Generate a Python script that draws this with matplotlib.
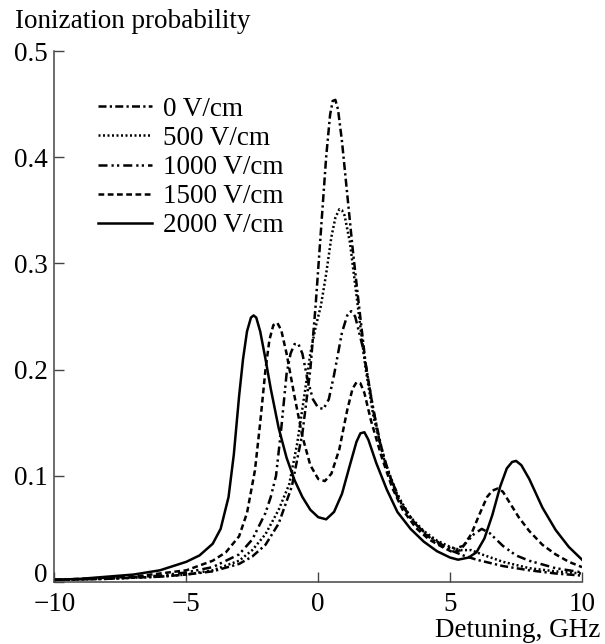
import numpy as np
import matplotlib
matplotlib.use("Agg")
import matplotlib.pyplot as plt

plt.rcParams['font.family'] = ['Liberation Serif', 'DejaVu Serif']
plt.rcParams['font.size'] = 19.5

# curve data (detuning in GHz, ionization probability)
x_0 = [-10, -8, -6, -5, -4, -3, -2.5, -2.0, -1.5, -1.0, -0.6, -0.3, -0.1, 0.1, 0.3, 0.45, 0.55, 0.65,
       0.75, 0.9, 1.1, 1.3, 1.5, 1.8, 2.1, 2.5, 3.0, 3.5, 4.0, 4.5, 5.0, 5.5, 6.0, 7.0, 8.0, 9.0, 10]
y_0 = [0.002, 0.003, 0.005, 0.007, 0.010, 0.017, 0.024, 0.035, 0.055, 0.090, 0.140, 0.200, 0.260, 0.330,
       0.400, 0.440, 0.453, 0.454, 0.445, 0.415, 0.365, 0.315, 0.270, 0.205, 0.160, 0.115, 0.080, 0.060,
       0.046, 0.037, 0.030, 0.025, 0.021, 0.015, 0.011, 0.008, 0.006]

x_500 = [-10, -8, -6, -5, -4, -3, -2.5, -2.0, -1.5, -1.1, -0.8, -0.5, -0.3, -0.1, 0.1, 0.3, 0.5, 0.65,
         0.8, 0.9, 1.0, 1.2, 1.5, 1.8, 2.1, 2.5, 3.0, 3.5, 4.0, 4.5, 5.0, 5.4, 5.8, 6.2, 7.0, 8.0,
         9.0, 10]
y_500 = [0.002, 0.003, 0.005, 0.007, 0.011, 0.020, 0.030, 0.045, 0.068, 0.092, 0.130, 0.180, 0.215,
         0.240, 0.260, 0.290, 0.325, 0.343, 0.351, 0.350, 0.345, 0.320, 0.260, 0.200, 0.155, 0.115,
         0.082, 0.061, 0.048, 0.039, 0.033, 0.030, 0.030, 0.026, 0.019, 0.013, 0.010, 0.008]

x_1000 = [-10, -8, -6, -5, -4, -3, -2.5, -2.0, -1.8, -1.6, -1.4, -1.2, -1.05, -0.9, -0.75, -0.6, -0.4,
          -0.2, 0.0, 0.2, 0.4, 0.6, 0.9, 1.1, 1.25, 1.4, 1.7, 2.0, 2.3, 2.7, 3.2, 3.7, 4.2, 4.7, 5.1,
          5.5, 5.9, 6.2, 6.5, 7.0, 7.5, 8.0, 9.0, 10]
y_1000 = [0.002, 0.003, 0.006, 0.009, 0.014, 0.026, 0.040, 0.065, 0.080, 0.100, 0.145, 0.196, 0.215,
          0.224, 0.224, 0.215, 0.190, 0.172, 0.164, 0.163, 0.172, 0.195, 0.235, 0.251, 0.255, 0.250,
          0.220, 0.175, 0.135, 0.100, 0.072, 0.054, 0.043, 0.035, 0.031, 0.034, 0.045, 0.050, 0.046,
          0.034, 0.025, 0.020, 0.013, 0.009]

x_1500 = [-10, -9, -8, -7, -6, -5, -4, -3.5, -3.0, -2.7, -2.4, -2.2, -2.0, -1.85, -1.7, -1.55, -1.4,
          -1.2, -0.9, -0.6, -0.3, 0.0, 0.25, 0.5, 0.8, 1.1, 1.3, 1.45, 1.6, 1.75, 2.0, 2.4, 2.8, 3.2,
          3.7, 4.2, 4.7, 5.1, 5.4, 5.8, 6.1, 6.4, 6.6, 6.8, 7.0, 7.3, 7.6, 8.0, 8.5, 9.0, 9.5, 10]
y_1500 = [0.002, 0.003, 0.004, 0.005, 0.008, 0.011, 0.020, 0.028, 0.043, 0.065, 0.105, 0.150, 0.200,
          0.228, 0.242, 0.244, 0.237, 0.215, 0.175, 0.137, 0.110, 0.097, 0.095, 0.102, 0.125, 0.162,
          0.182, 0.188, 0.187, 0.178, 0.152, 0.118, 0.089, 0.068, 0.051, 0.040, 0.033, 0.028, 0.030,
          0.045, 0.063, 0.080, 0.086, 0.088, 0.085, 0.073, 0.061, 0.048, 0.035, 0.026, 0.019, 0.014]

x_2000 = [-10, -9, -8, -7, -6, -5, -4.5, -4, -3.7, -3.4, -3.2, -3.0, -2.85, -2.7, -2.55, -2.45, -2.35,
          -2.2, -2.0, -1.8, -1.5, -1.2, -0.9, -0.6, -0.3, 0.0, 0.3, 0.6, 0.9, 1.2, 1.45, 1.6, 1.75,
          1.9, 2.2, 2.6, 3.0, 3.5, 4.0, 4.5, 5.0, 5.3, 5.7, 6.0, 6.3, 6.6, 6.9, 7.15, 7.35, 7.5, 7.7,
          8.0, 8.5, 9.0, 9.5, 10]
y_2000 = [0.002, 0.003, 0.005, 0.007, 0.011, 0.019, 0.025, 0.036, 0.050, 0.080, 0.120, 0.175, 0.210,
          0.236, 0.249, 0.251, 0.249, 0.236, 0.210, 0.182, 0.145, 0.117, 0.096, 0.080, 0.068, 0.061,
          0.059, 0.066, 0.083, 0.110, 0.132, 0.140, 0.141, 0.134, 0.112, 0.087, 0.066, 0.050, 0.038,
          0.029, 0.023, 0.021, 0.023, 0.028, 0.041, 0.063, 0.090, 0.107, 0.113, 0.114, 0.110, 0.097,
          0.070, 0.049, 0.033, 0.021]

labels = ['0 V/cm', '500 V/cm', '1000 V/cm', '1500 V/cm', '2000 V/cm']

fig = plt.figure(figsize=(6.05, 6.44), dpi=100)
ax = fig.add_axes([0.090, 0.0963, 0.872, 0.8245])

lw = 1.8
ax.plot(x_0, y_0, color='black', lw=lw, dashes=(3.2, 1.3, 0.9, 1.3), label=labels[0])
ax.plot(x_500, y_500, color='black', lw=lw, dashes=(0.8, 1.0), label=labels[1])
ax.plot(x_1000, y_1000, color='black', lw=lw, dashes=(3.6, 1.6, 0.9, 1.3, 0.9, 1.6), label=labels[2])
ax.plot(x_1500, y_1500, color='black', lw=lw, dashes=(2.3, 1.4), label=labels[3])
ax.plot(x_2000, y_2000, color='black', lw=lw, label=labels[4])

ax.set_xlim(-10, 10)
ax.set_ylim(0, 0.5)
ax.set_xticks([-10, -5, 0, 5, 10])
ax.set_yticks([0, 0.1, 0.2, 0.3, 0.4, 0.5])
ax.set_yticklabels(['0', '0.1', '0.2', '0.3', '0.4', '0.5'])
ax.tick_params(direction='in', length=7, width=1, color='#444444')
ax.tick_params(axis='y', pad=5)
ax.tick_params(axis='x', pad=7)
ax.get_yticklabels()[0].set_verticalalignment('baseline')
for s in ['top', 'right']:
    ax.spines[s].set_visible(False)
for s in ['left', 'bottom']:
    ax.spines[s].set_linewidth(1.1)
    ax.spines[s].set_color('#444444')

ax.legend(loc='upper left', bbox_to_anchor=(0.062, 0.934), frameon=False,
          handlelength=2.0, handletextpad=0.4, labelspacing=0.15, borderaxespad=0)

fig.text(0.025, 1 - 28 / 644, 'Ionization probability', ha='left', va='baseline')
fig.text(0.993, 1 - 637 / 644, 'Detuning, GHz', ha='right', va='baseline')

plt.savefig('out.png', dpi=100)
